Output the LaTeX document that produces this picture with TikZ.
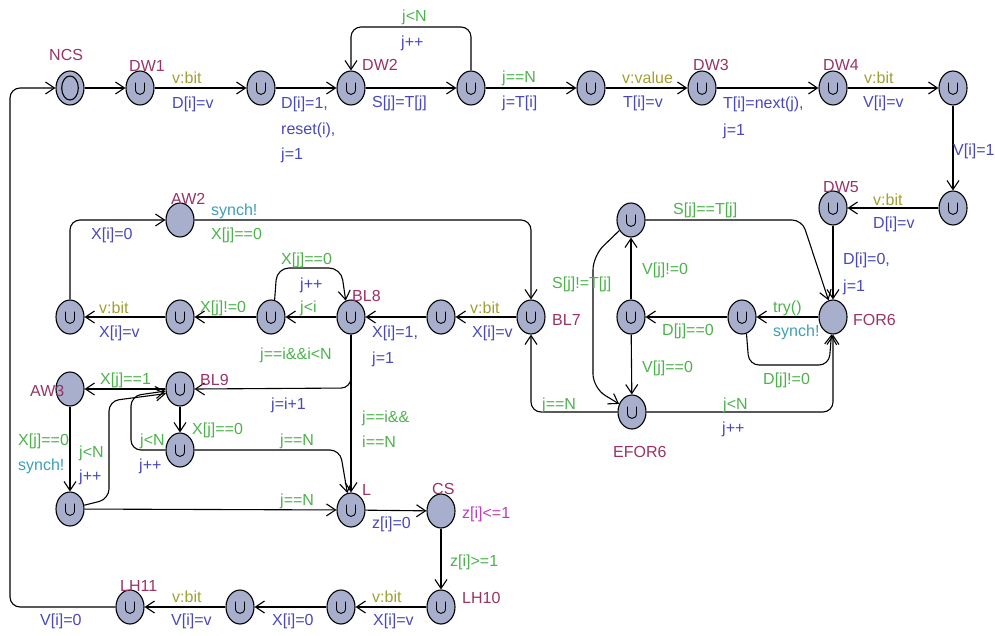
\documentclass[tikz,border=0pt]{standalone}
\usepackage{fontspec}
\setmainfont{Liberation Sans}
\usetikzlibrary{shapes.geometric,arrows.meta}
\definecolor{locfill}{RGB}{167,175,204}
\definecolor{namecol}{RGB}{153,51,102}
\definecolor{guardcol}{RGB}{76,178,76}
\definecolor{updcol}{RGB}{72,72,188}
\definecolor{selcol}{RGB}{160,160,50}
\definecolor{syncol}{RGB}{60,160,180}
\definecolor{invcol}{RGB}{190,60,190}
\newcommand\lbl[5]{\node[#1] (#2) at (#3,#4) {#5};}
\begin{document}
\begin{tikzpicture}[x=1pt,y=-1pt,
  loc/.style={ellipse, draw, fill=locfill, minimum width=28pt, minimum height=34pt, inner sep=0pt, line width=1.1pt},
  com/.style={loc, path picture={\draw[line width=0.9pt] ([shift={(-4.5pt,5.5pt)}]path picture bounding box.center) -- ++(0pt,-7pt) .. controls +(0pt,-6.5pt) and +(0pt,-6.5pt) .. ++(9pt,0pt) -- ++(0pt,7pt);}},
  init/.style={loc, path picture={\draw[line width=1.1pt] (path picture bounding box.center) ellipse [x radius=8.3pt, y radius=12pt];}},
  edge/.style={draw, line width=1.1pt, -{Straight Barb[length=9pt,width=12pt,line width=1.1pt]}, rounded corners=10pt},
  txt/.style={anchor=west, inner sep=0pt, font=\fontsize{16}{18}\selectfont},
  nm/.style={txt, text=namecol},
  gd/.style={txt, text=guardcol},
  up/.style={txt, text=updcol},
  sel/.style={txt, text=selcol},
  syn/.style={txt, text=syncol},
  inv/.style={txt, text=invcol}]
\useasboundingbox (0,0) rectangle (995,635);
% locations
\node[init] (ncs) at (70,88) {};
\node[com] (dw1) at (140,88) {};
\node[com] (n3) at (261,88) {};
\node[com] (dw2) at (351,88) {};
\node[com] (n5) at (471,88) {};
\node[com] (n6) at (591,88) {};
\node[com] (dw3) at (702,88) {};
\node[com] (dw4) at (833,88) {};
\node[com] (n9) at (953,88) {};
\node[com] (n11) at (953,208) {};
\node[com] (dw5) at (833,208) {};
\node[loc] (for6) at (833,317) {};
\node[com] (ntry) at (742,317) {};
\node[com] (nD) at (631,317) {};
\node[com] (ntop) at (631,220) {};
\node[com] (efor6) at (632,412) {};
\node[com] (bl7) at (531,317) {};
\node[com] (n441) at (441,317) {};
\node[com] (bl8) at (351,317) {};
\node[com] (n271) at (271,317) {};
\node[com] (n180) at (180,317) {};
\node[com] (n70) at (70,317) {};
\node[loc] (aw2) at (180,220) {};
\node[loc] (aw3) at (70,389) {};
\node[com] (bl9) at (180,389) {};
\node[com] (n450) at (180,450) {};
\node[com] (n509) at (70,509) {};
\node[com] (L) at (351,510) {};
\node[loc] (cs) at (441,511) {};
\node[com] (lh10) at (441,607) {};
\node[com] (n341) at (341,607) {};
\node[com] (n240) at (240,607) {};
\node[com] (lh11) at (130,607) {};
% edges
\draw[edge] (lh11) -- (10,607) -- (10,88) -- (ncs);
\draw[edge] (ncs) -- (dw1);
\draw[edge] (dw1) -- (n3);
\draw[edge] (n3) -- (dw2);
\draw[edge] (dw2) -- (n5);
\draw[edge] (n5.north) -- (471,27) -- (351,27) -- (dw2.north);
\draw[edge] (n5) -- (n6);
\draw[edge] (n6) -- (dw3);
\draw[edge] (dw3) -- (dw4);
\draw[edge] (dw4) -- (n9);
\draw[edge] (n9) -- (n11);
\draw[edge] (n11) -- (dw5);
\draw[edge] (dw5) -- (for6);
\draw[edge] (for6) -- (ntry);
\draw[edge] (ntry) -- (nD);
\draw[edge] (ntry.285) -- (749,365) -- (829,365) -- (for6.265);
\draw[edge] (nD) -- (ntop);
\draw[edge] (nD) -- (efor6);
\draw[edge] (ntop.east) -- (802,220) -- (for6.105);
\draw[edge,rounded corners=14pt] (ntop.222) -- (593,256) -- (593,388) -- (efor6.148);
\draw[edge] (efor6.east) -- (833,412) -- (for6.south);
\draw[edge] (efor6.west) -- (531,412) -- (bl7.south);
\draw[edge] (bl7) -- (n441);
\draw[edge] (n441) -- (bl8);
\draw[edge] (bl8) -- (n271);
\draw[edge,rounded corners=12pt] (n271.78) -- (277,268) -- (341,268) -- (bl8.108);
\draw[edge] (n271) -- (n180);
\draw[edge] (n180) -- (n70);
\draw[edge] (n70.north) -- (70,220) -- (aw2.west);
\draw[edge] (aw2.east) -- (531,220) -- (bl7.north);
\draw[edge] (bl8.south) -- (351,388) -- (bl9.east);
\draw[edge] (bl8.south) -- (L.north);
\draw[edge] (bl9) -- (aw3);
\draw[edge] (bl9) -- (n450);
\draw[edge] (n450.west) -- (131,450) -- (131,396) -- (bl9.188);
\draw[edge] (n450.east) -- (340,450) -- (L.102);
\draw[edge] (aw3) -- (n509);
\draw[edge] (n509.15) -- (109,499) -- (109,401) -- (bl9.198);
\draw[edge] (n509) -- (L);
\draw[edge] (L) -- (cs);
\draw[edge] (cs) -- (lh10);
\draw[edge] (lh10) -- (n341);
\draw[edge] (n341) -- (n240);
\draw[edge] (n240) -- (lh11);
% names
\lbl{nm}{lNCS}{49}{55}{NCS}
\lbl{nm}{lDW1}{129}{66}{DW1}
\lbl{nm}{lDW2}{362}{65}{DW2}
\lbl{nm}{lDW3}{693}{65}{DW3}
\lbl{nm}{lDW4}{823}{65}{DW4}
\lbl{nm}{lDW5}{823}{187}{DW5}
\lbl{nm}{lFOR6}{853}{320}{FOR6}
\lbl{nm}{lEFOR6}{613}{452}{EFOR6}
\lbl{nm}{lBL7}{552}{320}{BL7}
\lbl{nm}{lBL8}{352}{296}{BL8}
\lbl{nm}{lAW2}{171}{199}{AW2}
\lbl{nm}{lAW3}{30}{391}{AW3}
\lbl{nm}{lBL9}{200}{380}{BL9}
\lbl{nm}{lL}{362}{490}{L}
\lbl{nm}{lCS}{432}{489}{CS}
\lbl{nm}{lLH10}{462}{598}{LH10}
\lbl{nm}{lLH11}{120}{586}{LH11}
% selects
\lbl{sel}{s1}{172}{78}{v:bit}
\lbl{sel}{s2}{622}{78}{v:value}
\lbl{sel}{s3}{864}{78}{v:bit}
\lbl{sel}{s4}{873}{200}{v:bit}
\lbl{sel}{s5}{470}{308}{v:bit}
\lbl{sel}{s6}{99}{308}{v:bit}
\lbl{sel}{s7}{372}{597}{v:bit}
\lbl{sel}{s8}{172}{597}{v:bit}
% updates
\lbl{up}{u1}{172}{104}{D[i]=v}
\lbl{up}{u2}{281}{104}{D[i]=1,}
\lbl{up}{u3}{281}{130}{reset(i),}
\lbl{up}{u4}{281}{155}{j=1}
\lbl{up}{u5}{372}{103}{S[j]=T[j]}
\lbl{up}{u6}{401}{43}{j++}
\lbl{up}{u7}{502}{103}{j=T[i]}
\lbl{up}{u8}{623}{103}{T[i]=v}
\lbl{up}{u9}{723}{104}{T[i]=next(j),}
\lbl{up}{u10}{723}{131}{j=1}
\lbl{up}{u11}{863}{103}{V[i]=v}
\lbl{up}{u12}{953}{151}{V[i]=1}
\lbl{up}{u13}{873}{224}{D[i]=v}
\lbl{up}{u14}{843}{260}{D[i]=0,}
\lbl{up}{u15}{843}{287}{j=1}
\lbl{up}{u16}{472}{333}{X[i]=v}
\lbl{up}{u17}{372}{333}{X[i]=1,}
\lbl{up}{u18}{372}{359}{j=1}
\lbl{up}{u19}{300}{285}{j++}
\lbl{up}{u20}{99}{333}{X[i]=v}
\lbl{up}{u21}{91}{235}{X[i]=0}
\lbl{up}{u22}{271}{405}{j=i+1}
\lbl{up}{u23}{139}{466}{j++}
\lbl{up}{u24}{79}{477}{j++}
\lbl{up}{u25}{722}{429}{j++}
\lbl{up}{u26}{372}{524}{z[i]=0}
\lbl{up}{u27}{373}{621}{X[i]=v}
\lbl{up}{u28}{272}{621}{X[i]=0}
\lbl{up}{u29}{171}{621}{V[i]=v}
\lbl{up}{u30}{40}{621}{V[i]=0}
% guards
\lbl{gd}{g1}{402}{17}{j<N}
\lbl{gd}{g2}{502}{78}{j==N}
\lbl{gd}{g3}{673}{210}{S[j]==T[j]}
\lbl{gd}{g4}{642}{270}{V[j]!=0}
\lbl{gd}{g5}{662}{331}{D[j]==0}
\lbl{gd}{g6}{642}{368}{V[j]==0}
\lbl{gd}{g7}{763}{380}{D[j]!=0}
\lbl{gd}{g8}{552}{284}{S[j]!=T[j]}
\lbl{gd}{g9}{723}{405}{j<N}
\lbl{gd}{g10}{542}{405}{j==N}
\lbl{gd}{g11}{211}{235}{X[j]==0}
\lbl{gd}{g12}{281}{260}{X[j]==0}
\lbl{gd}{g13}{300}{308}{j<i}
\lbl{gd}{g14}{200}{308}{X[j]!=0}
\lbl{gd}{g15}{260}{355}{j==i\&\&i<N}
\lbl{gd}{g16}{362}{418}{j==i\&\&}
\lbl{gd}{g17}{362}{442}{i==N}
\lbl{gd}{g18}{100}{380}{X[j]==1}
\lbl{gd}{g19}{192}{430}{X[j]==0}
\lbl{gd}{g20}{140}{441}{j<N}
\lbl{gd}{g21}{280}{441}{j==N}
\lbl{gd}{g22}{18}{441}{X[j]==0}
\lbl{gd}{g23}{79}{453}{j<N}
\lbl{gd}{g24}{280}{501}{j==N}
\lbl{gd}{g25}{450}{562}{z[i]>=1}
\lbl{gd}{g26}{773}{308}{try()}
% syncs and invariant
\lbl{syn}{y1}{211}{211}{synch!}
\lbl{syn}{y2}{773}{332}{synch!}
\lbl{syn}{y3}{18}{466}{synch!}
\lbl{inv}{i1}{462}{514}{z[i]<=1}
\end{tikzpicture}
\end{document}
